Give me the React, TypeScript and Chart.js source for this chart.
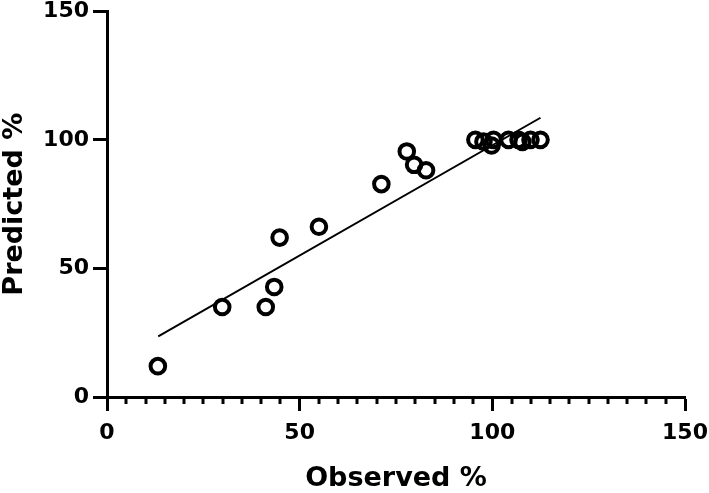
import React, { useEffect, useRef } from "react";
import { Chart, registerables } from "chart.js";

Chart.register(...registerables);

const observedX = [13.2, 29.9, 41.2, 43.4, 44.8, 55.0, 71.2, 77.8, 79.7, 82.8, 95.6, 97.7, 99.8, 100.3, 104.2, 106.8, 107.8, 109.9, 112.5];
const predictedY = [12, 35, 35, 42.8, 62, 66.2, 82.8, 95.5, 90.3, 88.2, 100, 99.3, 97.8, 100, 100, 100, 99.2, 100, 100];
const fitX = [13.3, 112.5];
const fitY = [23.6, 108.6];
const xMajorTicks = [0, 50, 100, 150];
const yMajorTicks = [0, 50, 100, 150];
const xMinorStep = 5;
const xTitle = "Observed %";
const yTitle = "Predicted %";

const FONT = "'DejaVu Sans', Verdana, sans-serif";

const minorTicks = {
  id: "minorTicks",
  afterDraw(chart: any) {
    const x = chart.scales.x;
    const ctx = chart.ctx;
    const bottom = chart.chartArea.bottom;
    ctx.save();
    ctx.strokeStyle = "#000";
    ctx.lineWidth = 3;
    for (let v = x.min + xMinorStep; v < x.max; v += xMinorStep) {
      if (xMajorTicks.includes(v)) continue;
      const px = Math.round(x.getPixelForValue(v));
      ctx.beginPath();
      ctx.moveTo(px, bottom);
      ctx.lineTo(px, bottom + 7);
      ctx.stroke();
    }
    ctx.restore();
  },
};

export default function App() {
  const ref = useRef<HTMLCanvasElement | null>(null);
  useEffect(() => {
    if (!ref.current) return;
    const chart = new Chart(ref.current, {
      type: "scatter",
      data: {
        datasets: [
          {
            type: "line",
            data: fitX.map((x, i) => ({ x, y: fitY[i] })),
            borderColor: "#000",
            borderWidth: 2,
            pointRadius: 0,
            fill: false,
          } as any,
          {
            type: "scatter",
            data: observedX.map((x, i) => ({ x, y: predictedY[i] })),
            borderColor: "#000",
            backgroundColor: "rgba(0,0,0,0)",
            borderWidth: 4,
            pointRadius: 7.3,
          },
        ],
      },
      options: {
        animation: false,
        responsive: true,
        maintainAspectRatio: false,
        layout: { padding: { top: 10, right: 24, left: 0, bottom: 0 } },
        plugins: { legend: { display: false }, tooltip: { enabled: false } },
        scales: {
          x: {
            type: "linear",
            min: 0,
            max: 150,
            afterFit: (s: any) => { s.height = 96; s.paddingLeft = 0; s.paddingRight = 0; },
            afterBuildTicks: (s: any) => { s.ticks = xMajorTicks.map((v) => ({ value: v })); },
            border: { display: true, color: "#000", width: 3 },
            grid: { drawOnChartArea: false, drawTicks: true, tickLength: 14, tickWidth: 3, tickColor: "#000" },
            ticks: { color: "#000", font: { family: FONT, size: 22, weight: "bold" }, padding: 9 },
            title: {
              display: true,
              text: xTitle,
              color: "#000",
              font: { family: FONT, size: 27, weight: "bold", lineHeight: 1 },
              padding: { top: 0, bottom: 1 },
            },
          },
          y: {
            type: "linear",
            min: 0,
            max: 150,
            afterFit: (s: any) => { s.width = 107; s.paddingTop = 0; s.paddingBottom = 0; },
            afterBuildTicks: (s: any) => { s.ticks = yMajorTicks.map((v) => ({ value: v })); },
            border: { display: true, color: "#000", width: 3 },
            grid: { drawOnChartArea: false, drawTicks: true, tickLength: 14, tickWidth: 3, tickColor: "#000" },
            ticks: { color: "#000", font: { family: FONT, size: 22, weight: "bold" }, padding: 4 },
            title: {
              display: true,
              text: yTitle,
              color: "#000",
              font: { family: FONT, size: 27, weight: "bold", lineHeight: 1 },
              padding: { top: 1, bottom: 0 },
            },
          },
        },
      },
      plugins: [minorTicks],
    });
    return () => chart.destroy();
  }, []);
  return (
    <div style={{ position: "fixed", left: 0, top: 0, width: 709, height: 493, background: "#fff" }}>
      <canvas ref={ref} />
    </div>
  );
}
